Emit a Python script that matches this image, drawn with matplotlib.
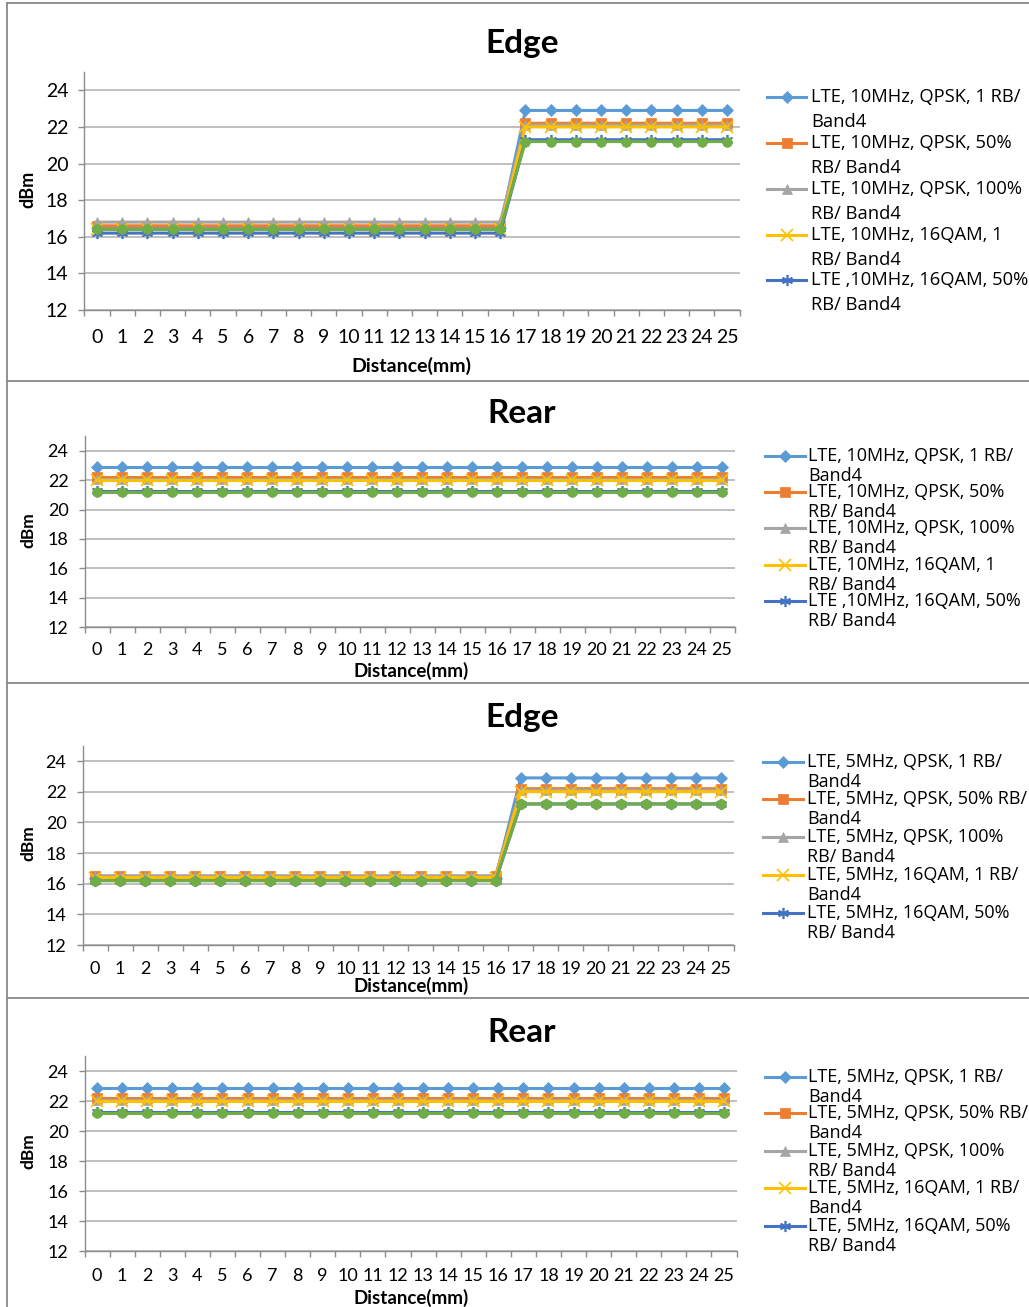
import numpy as np
import matplotlib.pyplot as plt
from matplotlib.lines import Line2D

W, H = 1029, 1307
plt.rcParams['font.family'] = ['Lato', 'DejaVu Sans']

# -----------------------------
# DATA
# -----------------------------
distance = list(range(26))

# Edge, 10MHz
edge10_qpsk_1rb = [16.5, 16.5, 16.5, 16.5, 16.5, 16.5, 16.5, 16.5, 16.5, 16.5, 16.5, 16.5, 16.5, 16.5, 16.5, 16.5, 16.5, 22.9, 22.9, 22.9, 22.9, 22.9, 22.9, 22.9, 22.9, 22.9]
edge10_qpsk_50rb = [16.6, 16.6, 16.6, 16.6, 16.6, 16.6, 16.6, 16.6, 16.6, 16.6, 16.6, 16.6, 16.6, 16.6, 16.6, 16.6, 16.6, 22.2, 22.2, 22.2, 22.2, 22.2, 22.2, 22.2, 22.2, 22.2]
edge10_qpsk_100rb = [16.8, 16.8, 16.8, 16.8, 16.8, 16.8, 16.8, 16.8, 16.8, 16.8, 16.8, 16.8, 16.8, 16.8, 16.8, 16.8, 16.8, 22.1, 22.1, 22.1, 22.1, 22.1, 22.1, 22.1, 22.1, 22.1]
edge10_16qam_1rb = [16.4, 16.4, 16.4, 16.4, 16.4, 16.4, 16.4, 16.4, 16.4, 16.4, 16.4, 16.4, 16.4, 16.4, 16.4, 16.4, 16.4, 22.0, 22.0, 22.0, 22.0, 22.0, 22.0, 22.0, 22.0, 22.0]
edge10_16qam_50rb = [16.2, 16.2, 16.2, 16.2, 16.2, 16.2, 16.2, 16.2, 16.2, 16.2, 16.2, 16.2, 16.2, 16.2, 16.2, 16.2, 16.2, 21.3, 21.3, 21.3, 21.3, 21.3, 21.3, 21.3, 21.3, 21.3]
edge10_16qam_100rb = [16.4, 16.4, 16.4, 16.4, 16.4, 16.4, 16.4, 16.4, 16.4, 16.4, 16.4, 16.4, 16.4, 16.4, 16.4, 16.4, 16.4, 21.2, 21.2, 21.2, 21.2, 21.2, 21.2, 21.2, 21.2, 21.2]

# Rear, 10MHz
rear10_qpsk_1rb = [22.9, 22.9, 22.9, 22.9, 22.9, 22.9, 22.9, 22.9, 22.9, 22.9, 22.9, 22.9, 22.9, 22.9, 22.9, 22.9, 22.9, 22.9, 22.9, 22.9, 22.9, 22.9, 22.9, 22.9, 22.9, 22.9]
rear10_qpsk_50rb = [22.2, 22.2, 22.2, 22.2, 22.2, 22.2, 22.2, 22.2, 22.2, 22.2, 22.2, 22.2, 22.2, 22.2, 22.2, 22.2, 22.2, 22.2, 22.2, 22.2, 22.2, 22.2, 22.2, 22.2, 22.2, 22.2]
rear10_qpsk_100rb = [22.1, 22.1, 22.1, 22.1, 22.1, 22.1, 22.1, 22.1, 22.1, 22.1, 22.1, 22.1, 22.1, 22.1, 22.1, 22.1, 22.1, 22.1, 22.1, 22.1, 22.1, 22.1, 22.1, 22.1, 22.1, 22.1]
rear10_16qam_1rb = [22.0, 22.0, 22.0, 22.0, 22.0, 22.0, 22.0, 22.0, 22.0, 22.0, 22.0, 22.0, 22.0, 22.0, 22.0, 22.0, 22.0, 22.0, 22.0, 22.0, 22.0, 22.0, 22.0, 22.0, 22.0, 22.0]
rear10_16qam_50rb = [21.3, 21.3, 21.3, 21.3, 21.3, 21.3, 21.3, 21.3, 21.3, 21.3, 21.3, 21.3, 21.3, 21.3, 21.3, 21.3, 21.3, 21.3, 21.3, 21.3, 21.3, 21.3, 21.3, 21.3, 21.3, 21.3]
rear10_16qam_100rb = [21.2, 21.2, 21.2, 21.2, 21.2, 21.2, 21.2, 21.2, 21.2, 21.2, 21.2, 21.2, 21.2, 21.2, 21.2, 21.2, 21.2, 21.2, 21.2, 21.2, 21.2, 21.2, 21.2, 21.2, 21.2, 21.2]

# Edge, 5MHz
edge5_qpsk_1rb = [16.4, 16.4, 16.4, 16.4, 16.4, 16.4, 16.4, 16.4, 16.4, 16.4, 16.4, 16.4, 16.4, 16.4, 16.4, 16.4, 16.4, 22.9, 22.9, 22.9, 22.9, 22.9, 22.9, 22.9, 22.9, 22.9]
edge5_qpsk_50rb = [16.5, 16.5, 16.5, 16.5, 16.5, 16.5, 16.5, 16.5, 16.5, 16.5, 16.5, 16.5, 16.5, 16.5, 16.5, 16.5, 16.5, 22.2, 22.2, 22.2, 22.2, 22.2, 22.2, 22.2, 22.2, 22.2]
edge5_qpsk_100rb = [16.5, 16.5, 16.5, 16.5, 16.5, 16.5, 16.5, 16.5, 16.5, 16.5, 16.5, 16.5, 16.5, 16.5, 16.5, 16.5, 16.5, 22.1, 22.1, 22.1, 22.1, 22.1, 22.1, 22.1, 22.1, 22.1]
edge5_16qam_1rb = [16.4, 16.4, 16.4, 16.4, 16.4, 16.4, 16.4, 16.4, 16.4, 16.4, 16.4, 16.4, 16.4, 16.4, 16.4, 16.4, 16.4, 22.0, 22.0, 22.0, 22.0, 22.0, 22.0, 22.0, 22.0, 22.0]
edge5_16qam_50rb = [16.2, 16.2, 16.2, 16.2, 16.2, 16.2, 16.2, 16.2, 16.2, 16.2, 16.2, 16.2, 16.2, 16.2, 16.2, 16.2, 16.2, 21.2, 21.2, 21.2, 21.2, 21.2, 21.2, 21.2, 21.2, 21.2]
edge5_16qam_100rb = [16.2, 16.2, 16.2, 16.2, 16.2, 16.2, 16.2, 16.2, 16.2, 16.2, 16.2, 16.2, 16.2, 16.2, 16.2, 16.2, 16.2, 21.2, 21.2, 21.2, 21.2, 21.2, 21.2, 21.2, 21.2, 21.2]

# Rear, 5MHz
rear5_qpsk_1rb = [22.9, 22.9, 22.9, 22.9, 22.9, 22.9, 22.9, 22.9, 22.9, 22.9, 22.9, 22.9, 22.9, 22.9, 22.9, 22.9, 22.9, 22.9, 22.9, 22.9, 22.9, 22.9, 22.9, 22.9, 22.9, 22.9]
rear5_qpsk_50rb = [22.2, 22.2, 22.2, 22.2, 22.2, 22.2, 22.2, 22.2, 22.2, 22.2, 22.2, 22.2, 22.2, 22.2, 22.2, 22.2, 22.2, 22.2, 22.2, 22.2, 22.2, 22.2, 22.2, 22.2, 22.2, 22.2]
rear5_qpsk_100rb = [22.1, 22.1, 22.1, 22.1, 22.1, 22.1, 22.1, 22.1, 22.1, 22.1, 22.1, 22.1, 22.1, 22.1, 22.1, 22.1, 22.1, 22.1, 22.1, 22.1, 22.1, 22.1, 22.1, 22.1, 22.1, 22.1]
rear5_16qam_1rb = [22.0, 22.0, 22.0, 22.0, 22.0, 22.0, 22.0, 22.0, 22.0, 22.0, 22.0, 22.0, 22.0, 22.0, 22.0, 22.0, 22.0, 22.0, 22.0, 22.0, 22.0, 22.0, 22.0, 22.0, 22.0, 22.0]
rear5_16qam_50rb = [21.25, 21.25, 21.25, 21.25, 21.25, 21.25, 21.25, 21.25, 21.25, 21.25, 21.25, 21.25, 21.25, 21.25, 21.25, 21.25, 21.25, 21.25, 21.25, 21.25, 21.25, 21.25, 21.25, 21.25, 21.25, 21.25]
rear5_16qam_100rb = [21.2, 21.2, 21.2, 21.2, 21.2, 21.2, 21.2, 21.2, 21.2, 21.2, 21.2, 21.2, 21.2, 21.2, 21.2, 21.2, 21.2, 21.2, 21.2, 21.2, 21.2, 21.2, 21.2, 21.2, 21.2, 21.2]

labels_10mhz = [
    "LTE, 10MHz, QPSK, 1 RB/\nBand4",
    "LTE, 10MHz, QPSK, 50%\nRB/ Band4",
    "LTE, 10MHz, QPSK, 100%\nRB/ Band4",
    "LTE, 10MHz, 16QAM, 1\nRB/ Band4",
    "LTE ,10MHz, 16QAM, 50%\nRB/ Band4",
]
labels_5mhz = [
    "LTE, 5MHz, QPSK, 1 RB/\nBand4",
    "LTE, 5MHz, QPSK, 50% RB/\nBand4",
    "LTE, 5MHz, QPSK, 100%\nRB/ Band4",
    "LTE, 5MHz, 16QAM, 1 RB/\nBand4",
    "LTE, 5MHz, 16QAM, 50%\nRB/ Band4",
]

# -----------------------------
# STYLE
# -----------------------------
colors = ['#5B9BD5', '#ED7D31', '#A5A5A5', '#FFC000', '#4472C4', '#70AD47']
markers = ['D', 's', '^', 'x', (6, 2, 0), 'o']
msizes = [6, 7, 7, 8, 8, 7]
axis_gray = '#8c8c8c'
grid_gray = '#b4b4b4'


def fx(px):
    return px / W


def fy(py):
    return 1 - py / H


# pixel layout of the four panels
panels = [
    dict(title='Edge', labels=labels_10mhz,
         series=[edge10_qpsk_1rb, edge10_qpsk_50rb, edge10_qpsk_100rb,
                 edge10_16qam_1rb, edge10_16qam_50rb, edge10_16qam_100rb],
         left=84.4, right=739.6, top=72, bottom=310, title_y=43, xlabel_y=366,
         title_fs=24, tick_fs=14, label_fs=14, leg_fs=13.2, xpad=14, ypad=7,
         leg_line=(767, 806), leg_text=811,
         leg_y=[97, 143, 189, 235, 280], leg_dy=25),
    dict(title='Rear', labels=labels_10mhz,
         series=[rear10_qpsk_1rb, rear10_qpsk_50rb, rear10_qpsk_100rb,
                 rear10_16qam_1rb, rear10_16qam_50rb, rear10_16qam_100rb],
         left=84.5, right=734.5, top=436.3, bottom=627, title_y=413, xlabel_y=671,
         title_fs=24, tick_fs=13, label_fs=13.5, leg_fs=13, xpad=10.5, ypad=7,
         leg_line=(765, 805), leg_text=808,
         leg_y=[456, 492, 528, 565, 601], leg_dy=20),
    dict(title='Edge', labels=labels_5mhz,
         series=[edge5_qpsk_1rb, edge5_qpsk_50rb, edge5_qpsk_100rb,
                 edge5_16qam_1rb, edge5_16qam_50rb, edge5_16qam_100rb],
         left=82.5, right=733.5, top=745.7, bottom=945, title_y=717, xlabel_y=986,
         title_fs=24, tick_fs=13, label_fs=13.5, leg_fs=13, xpad=11.5, ypad=7,
         leg_line=(763, 803), leg_text=807,
         leg_y=[762, 799, 837, 875, 913], leg_dy=20),
    dict(title='Rear', labels=labels_5mhz,
         series=[rear5_qpsk_1rb, rear5_qpsk_50rb, rear5_qpsk_100rb,
                 rear5_16qam_1rb, rear5_16qam_50rb, rear5_16qam_100rb],
         left=84.5, right=736.5, top=1056, bottom=1251, title_y=1032, xlabel_y=1298,
         title_fs=24, tick_fs=13, label_fs=13.5, leg_fs=13, xpad=12.5, ypad=7,
         leg_line=(765, 805), leg_text=808,
         leg_y=[1077, 1113, 1151, 1188, 1226], leg_dy=20),
]

fig = plt.figure(figsize=(W / 100, H / 100), dpi=100)

for p in panels:
    ax = fig.add_axes([fx(p['left']), fy(p['bottom']),
                       (p['right'] - p['left']) / W, (p['bottom'] - p['top']) / H])
    for vals, c, m, ms in zip(p['series'], colors, markers, msizes):
        ax.plot(distance, vals, color=c, marker=m, markersize=ms, lw=2.2,
                markeredgewidth=1.2 if m in ('x', (6, 2, 0)) else 0.5,
                markeredgecolor=c, clip_on=False, zorder=3)

    ax.set_xlim(-0.5, 25.5)
    ax.set_ylim(12, 25)
    ax.set_yticks(range(12, 25, 2))
    ax.set_xticks(distance)
    ax.set_xticks(np.arange(-0.5, 26, 1), minor=True)
    ax.grid(axis='y', color=grid_gray, lw=1.2)
    ax.set_axisbelow(True)

    for side in ('top', 'right'):
        ax.spines[side].set_visible(False)
    for side in ('left', 'bottom'):
        ax.spines[side].set_color(axis_gray)
        ax.spines[side].set_linewidth(1.0)

    ax.tick_params(axis='x', which='major', length=0, pad=p['xpad'],
                   labelsize=p['tick_fs'])
    ax.tick_params(axis='x', which='minor', length=4.5, width=1.0,
                   color=axis_gray, direction='out')
    ax.tick_params(axis='y', length=4.5, width=1.0, color=axis_gray,
                   pad=p['ypad'], labelsize=p['tick_fs'])

    # title and axis labels
    fig.text(fx(522), fy(p['title_y']), p['title'], ha='center', va='center',
             fontsize=p['title_fs'], fontweight='bold')
    fig.text(fx(411), fy(p['xlabel_y']), 'Distance(mm)',
             ha='center', va='center', fontsize=p['label_fs'], fontweight='bold')
    fig.text(fx(28), fy((p['top'] + p['bottom']) / 2 - 2), 'dBm', ha='center',
             va='center', rotation=90, fontsize=p['label_fs'] - 1, fontweight='bold')

    # legend (right side, wrapped text like the spreadsheet chart)
    x0, x1 = p['leg_line']
    for lab, y, c, m, ms in zip(p['labels'], p['leg_y'], colors, markers, msizes):
        fig.add_artist(Line2D([fx(x0), fx(x1)], [fy(y), fy(y)],
                              transform=fig.transFigure, color=c, lw=2.2))
        fig.add_artist(Line2D([fx((x0 + x1) / 2)], [fy(y)], transform=fig.transFigure,
                              color=c, marker=m, markersize=ms,
                              markeredgewidth=1.2 if m in ('x', (6, 2, 0)) else 0.5))
        first, second = lab.split('\n')
        fig.text(fx(p['leg_text']), fy(y), first, ha='left', va='center',
                 fontsize=p['leg_fs'], family=['Open Sans', 'DejaVu Sans'])
        fig.text(fx(p['leg_text']), fy(y + p['leg_dy']), second, ha='left', va='center',
                 fontsize=p['leg_fs'], family=['Open Sans', 'DejaVu Sans'])

# panel borders
border = dict(transform=fig.transFigure, color='#8a8a8a', lw=1.3)
fig.add_artist(Line2D([fx(7), fx(7)], [fy(3), 0], **border))
for yb in (3, 381, 683, 998):
    fig.add_artist(Line2D([fx(7), 1], [fy(yb), fy(yb)], **border))

plt.savefig("out.png", dpi=100)
plt.close()
